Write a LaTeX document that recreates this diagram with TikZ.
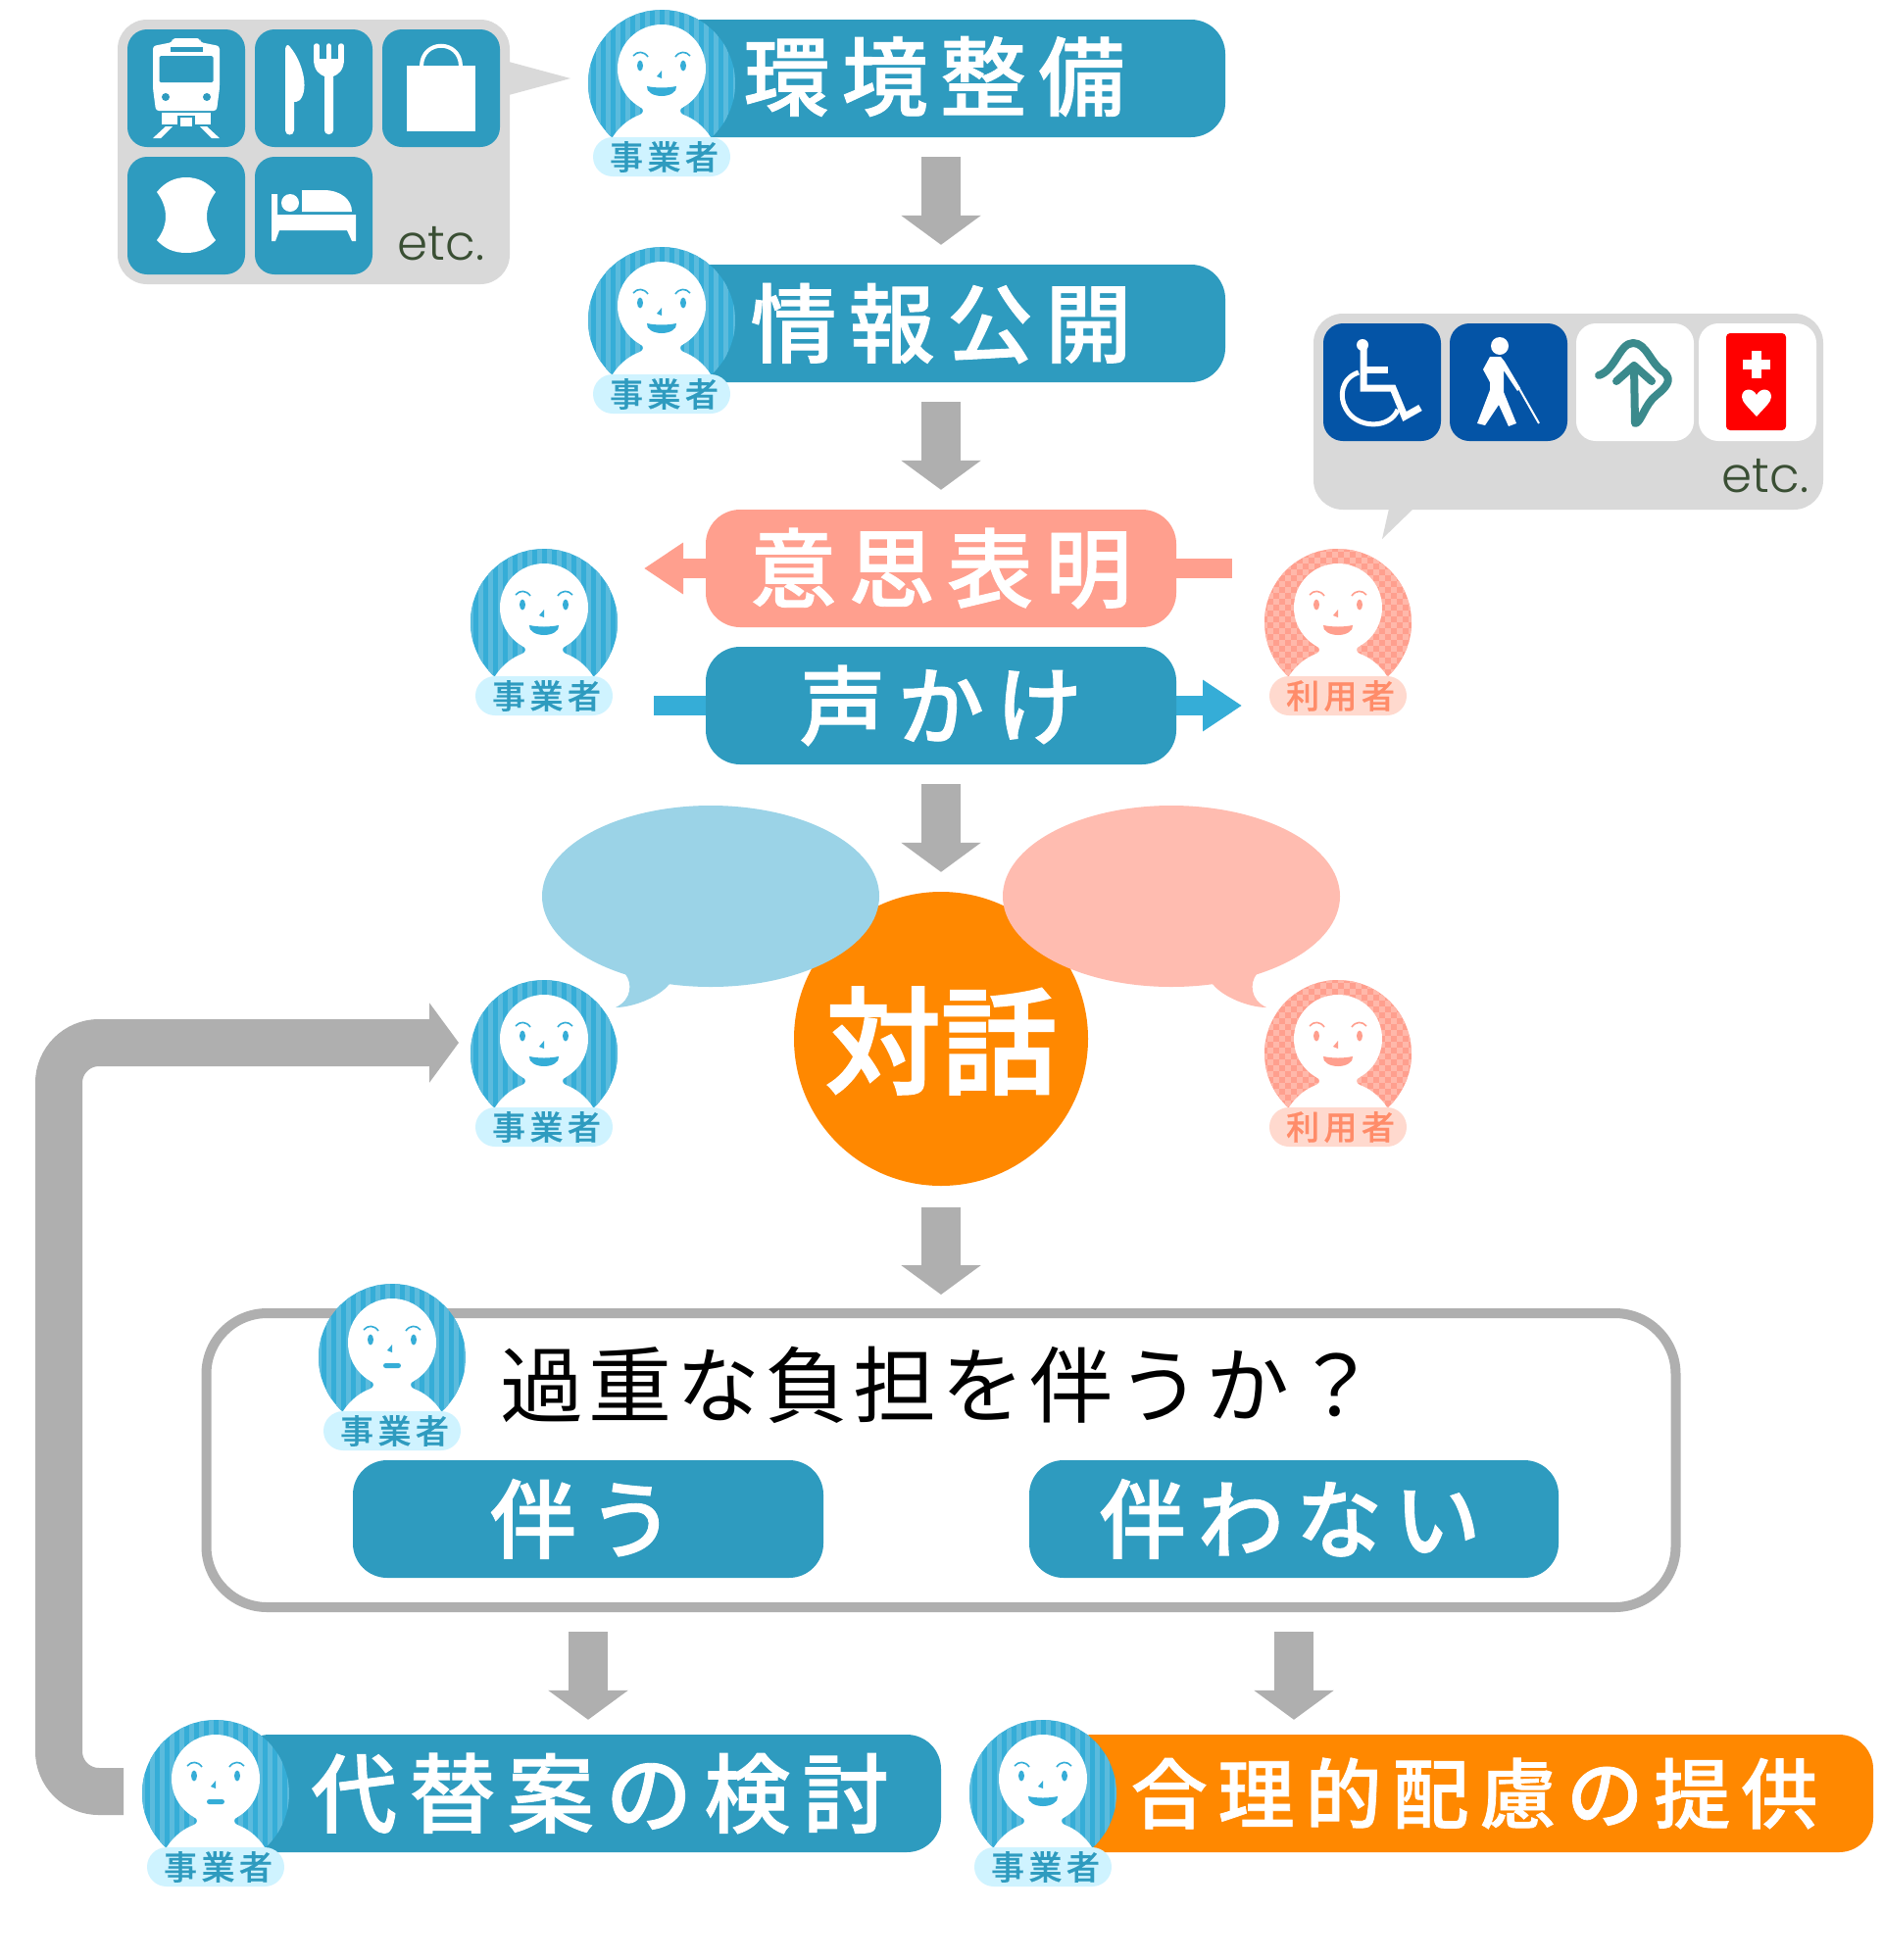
\documentclass[tikz,border=0pt]{standalone}
\usepackage{fontspec}
\usetikzlibrary{shapes.geometric,arrows.meta}
\newfontfamily\jpwide[LetterSpace=14,FakeBold=1]{Noto Sans CJK JP Medium}
\newfontfamily\jplabel[LetterSpace=13,FakeBold=0.6]{Noto Sans CJK JP Medium}
\newfontfamily\jpask[LetterSpace=6]{Noto Sans CJK JP}
\newfontfamily\jpbig[FakeBold=2]{Noto Sans CJK JP Medium}
\newfontfamily\etcfont[UprightFont=* Light]{Poppins}
\definecolor{barteal}{HTML}{2E9BBF}
\definecolor{stripedark}{HTML}{35ADD7}
\definecolor{stripelight}{HTML}{5BBBDD}
\definecolor{bizpale}{HTML}{CFF3FF}
\definecolor{salmon}{HTML}{FF9F8E}
\definecolor{salmonlight}{HTML}{FFB8AA}
\definecolor{userpale}{HTML}{FFD9CE}
\definecolor{usertext}{HTML}{FF8C69}
\definecolor{orangebar}{HTML}{FF8800}
\definecolor{arrowgray}{HTML}{AFAFAF}
\definecolor{bubblegray}{HTML}{D9D9D9}
\definecolor{saybiz}{HTML}{9BD3E7}
\definecolor{sayuser}{HTML}{FFBCB0}
\definecolor{signblue}{HTML}{0454A6}
\definecolor{signgreen}{HTML}{3B8A8C}
\definecolor{etcgreen}{HTML}{3A4F34}
% parts of a face, origin at the middle of the round background
\newcommand{\facelines}[1]{%
  \fill[white] (0,-15) circle (45);
  \fill[white] (-22,24) .. controls (-18,26) and (-18,30) .. (-22,32) .. controls (-33,36) and (-43,44) .. (-50,55) -- (50,55) .. controls (43,44) and (33,36) .. (22,32) .. controls (18,30) and (18,26) .. (22,24) -- cycle;
  \fill[#1] (-22,-18) ellipse [x radius=3, y radius=5.5];
  \fill[#1] (22,-18) ellipse [x radius=3, y radius=5.5];
  \draw[#1, line width=1.6pt] (-29,-28) .. controls (-25,-33) and (-18,-33) .. (-14,-27);
  \draw[#1, line width=1.6pt] (29,-28) .. controls (25,-33) and (18,-33) .. (14,-27);
  \fill[#1] (0,-13) -- (0,-5) -- (-5,-7) -- cycle;
}
\newcommand{\mouthsmile}[1]{\fill[#1] (-15,3) .. controls (-5,5) and (5,5) .. (15,3) .. controls (16,9) and (8,13) .. (0,13) .. controls (-8,13) and (-16,9) .. (-15,3) -- cycle;}
\newcommand{\mouthflat}[1]{\fill[#1, rounded corners=2.5pt] (-9,6) rectangle (9,11);}
\tikzset{
  bizlabel/.style={fill=bizpale, text=barteal, rounded corners=20pt, minimum width=140pt, minimum height=40pt, inner sep=0pt, font=\fontsize{34}{34}\jplabel},
  userlabel/.style={bizlabel, fill=userpale, text=usertext},
  pics/bizface/.style={code={
    \begin{scope}
      \clip (0,0) circle (75);
      \clip (-80,-80) rectangle (80,55);
      \fill[stripedark] (-75,-75) rectangle (75,75);
      \foreach \k in {-8,...,7} \fill[stripelight] (\k*10+2.5,-75) rectangle ++(5,150);
    \end{scope}
    \facelines{stripedark}
    #1{stripedark}
    \coordinate (-west) at (-75,-2);
    \node[bizlabel] (-label) at (0,75) {\hspace*{5pt}事業者};
  }},
  pics/userface/.style={code={
    \begin{scope}
      \clip (0,0) circle (75);
      \clip (-80,-80) rectangle (80,55);
      \fill[salmon] (-75,-75) rectangle (75,75);
      \foreach \i in {-13,...,12} \foreach \j in {-13,...,12} {
        \ifodd\numexpr\i+\j\relax \fill[salmonlight] (\i*6,\j*6) rectangle ++(6,6); \fi
      }
    \end{scope}
    \facelines{salmon}
    #1{salmon}
    \node[userlabel] (-label) at (0,75) {\hspace*{5pt}利用者};
  }},
  barbox/.style={fill=barteal, text=white, rounded corners=35pt, minimum height=120pt, inner sep=0pt, font=\fontsize{88}{88}\jpwide},
  bartext/.style={text=white, inner sep=0pt, font=\fontsize{88}{88}\jpwide},
  flowarrow/.style={draw=arrowgray, line width=40pt, -{Triangle[width=80pt,length=30pt]}, shorten <=20pt, shorten >=20pt},
  looparrow/.style={draw=arrowgray, line width=48pt, rounded corners=41pt, -{Triangle[width=80pt,length=30pt]}, shorten <=19pt},
  iconbox/.style={fill=barteal, rounded corners=20pt, minimum width=120pt, minimum height=120pt, inner sep=0pt},
  bubblebox/.style={fill=bubblegray, rounded corners=30pt, inner sep=0pt},
  etctext/.style={text=etcgreen, inner sep=0pt, anchor=base, font=\fontsize{50}{50}\etcfont},
}
\begin{document}
\begin{tikzpicture}[x=1pt, y=-1pt]
  \fill[white] (0,0) rectangle (1920,2000);
  \useasboundingbox (0,0) rectangle (1920,2000);

  % shop signs
  \node[bubblebox, minimum width=400pt, minimum height=270pt] (shopbubble) at (320,155) {};
  \fill[bubblegray] (519,63) -- (582,80) -- (519,97) -- cycle;
  \node[iconbox] (train) at (190,90) {};
  \node[iconbox] (meal) at (320,90) {};
  \node[iconbox] (bag) at (450,90) {};
  \node[iconbox] (towel) at (190,220) {};
  \node[iconbox] (bed) at (320,220) {};
  \node[etctext] (shopetc) at (450,265) {etc.};
  % train
  \fill[white, rounded corners=3pt] (176,43) -- (176,39) -- (204,39) -- (204,43) -- (224,47) -- (224,90) -- (221,113) -- (159,113) -- (156,90) -- (156,47) -- cycle;
  \fill[barteal] (174,48) rectangle (207,53);
  \fill[barteal, rounded corners=1.5pt] (162.5,57) rectangle (217.5,84);
  \fill[barteal] (169,99) circle (4);
  \fill[barteal] (211,99) circle (4);
  \fill[white] (165,115) rectangle (215,127);
  \fill[barteal] (181,118) rectangle (199,129);
  \fill[white] (184,120) rectangle (196,129);
  \fill[white] (169,129) -- (176,129) -- (164,141) -- (156,141) -- cycle;
  \fill[white] (211,129) -- (204,129) -- (216,141) -- (224,141) -- cycle;
  % knife and fork
  \fill[white] (291,50) .. controls (292,45) and (294,45) .. (296,48) .. controls (308,62) and (316,90) .. (306,102) .. controls (304,104) and (301,104) .. (300,104) -- (300,133) .. controls (300,139) and (291,139) .. (291,133) -- cycle;
  \fill[white, rounded corners=4pt] (331,75) rectangle (340,137);
  \fill[white] (320,60) -- (351,60) .. controls (351,72) and (345,76) .. (340,78) -- (331,78) .. controls (326,76) and (320,72) .. (320,60) -- cycle;
  \foreach \tine in {323,335.5,348} \draw[white, line width=5.5pt, line cap=round] (\tine,47) -- (\tine,62);
  % bag
  \fill[white] (415,67) rectangle (485,134);
  \draw[white, line width=4pt] (430,67) .. controls (431,40) and (469,40) .. (470,67);
  % towel
  \fill[white] (160,196) .. controls (168,186) and (178,181) .. (190,181) .. controls (202,181) and (212,186) .. (220,196) .. controls (208,212) and (208,230) .. (220,245) .. controls (212,254) and (202,258) .. (190,258) .. controls (178,258) and (168,254) .. (160,245) .. controls (172,230) and (172,212) .. (160,196) -- cycle;
  % bed
  \fill[white] (277,198) -- (283,198) -- (283,219) -- (363,219) -- (363,246) -- (359,246) -- (354,235) -- (285,235) -- (281,246) -- (277,246) -- cycle;
  \fill[white] (296,207) circle (9);
  \fill[white] (308,194) -- (330,194) .. controls (348,194) and (359,204) .. (359,216) -- (308,216) -- cycle;

  % access signs
  \node[bubblebox, minimum width=520pt, minimum height=200pt] (signbubble) at (1600,420) {};
  \fill[bubblegray] (1417,519) -- (1442,519) -- (1410,550) -- cycle;
  \node[iconbox, fill=signblue] (wheelchair) at (1410,390) {};
  \node[iconbox, fill=signblue] (whitecane) at (1539,390) {};
  \node[iconbox, fill=white] (ostomate) at (1668,390) {};
  \node[iconbox, fill=white] (helpmark) at (1793,390) {};
  \node[etctext] (signetc) at (1801,502) {etc.};
  % wheelchair
  \fill[white] (1390,352) circle (6);
  \draw[white, line width=7pt] (1391,352) -- (1391,396) -- (1421,396) -- (1433,425) -- (1449,416);
  \draw[white, line width=7pt] (1391,377) -- (1416,377);
  \draw[white, line width=5pt] (1386,380) .. controls (1368,386) and (1366,405) .. (1373,417) .. controls (1384,438) and (1418,438) .. (1426,418);
  % person with a white cane
  \fill[white] (1530,353) circle (9);
  \fill[white] (1520,364) -- (1531,364) -- (1535,369) -- (1551,396) -- (1548,399) -- (1534,378) -- (1534,400) -- (1547,432) -- (1539,435) -- (1529,413) -- (1515,434) -- (1507,432) -- (1520,398) -- (1520,390) -- (1513,377) -- cycle;
  \draw[white, line width=2pt] (1549,395) -- (1570,432);
  % arrow sign
  \draw[signgreen, line width=8pt, line cap=round, line join=round] (1631,383) .. controls (1648,378) and (1652,350) .. (1666,350) .. controls (1680,350) and (1684,372) .. (1698,380) .. controls (1706,388) and (1700,395) .. (1690,403) .. controls (1678,412) and (1674,432) .. (1668,432) -- (1667,373);
  \draw[signgreen, line width=8pt, line cap=round, line join=round] (1649,389) -- (1667,373) -- (1685,389);
  % cross and heart
  \begin{scope}[xshift=-2pt]
    \fill[red, rounded corners=4pt] (1763,340) rectangle (1824,439);
    \fill[white] (1789,358) rectangle (1799,386);
    \fill[white] (1780,367) rectangle (1808,377);
    \fill[white] (1794,425) .. controls (1785,415) and (1779,410) .. (1779,405) .. controls (1779,396) and (1790,395) .. (1794,403) .. controls (1798,395) and (1809,396) .. (1809,405) .. controls (1809,410) and (1803,415) .. (1794,425) -- cycle;
  \end{scope}

  % flow boxes
  \node[barbox, minimum width=580pt] (envbar) at (960,80) {};
  \node[bartext] (envtext) at (953,78) {環境整備};
  \node[barbox, minimum width=580pt] (infobar) at (960,330) {情報公開};
  \draw[flowarrow] (envbar.south) -- (infobar.north);
  \coordinate (saystart) at (1257,580);
  \coordinate (saytip) at (657,580);
  \coordinate (callstart) at (667,720);
  \coordinate (calltip) at (1267,720);
  \draw[draw=salmon, line width=20pt, -{Triangle[width=50pt,length=40pt]}] (saystart) -- (saytip);
  \draw[draw=stripedark, line width=20pt, -{Triangle[width=50pt,length=40pt]}] (callstart) -- (calltip);
  \node[barbox, fill=salmon, minimum width=480pt] (intent) at (960,580) {意思表明};
  \node[barbox, minimum width=480pt] (call) at (960,720) {声かけ};
  \draw[flowarrow] (infobar.south) -- (intent.north);

  % dialogue
  \node[circle, fill=orangebar, minimum size=300pt, inner sep=0pt] (dialog) at (960,1060) {};
  \draw[flowarrow] (call.south) -- (dialog.north);
  \node[ellipse, fill=saybiz, minimum width=344pt, minimum height=185pt, inner sep=0pt] (bizsay) at (725,914.5) {};
  \fill[saybiz] (638,994) .. controls (645,1003) and (645,1020) .. (628,1028) .. controls (645,1028) and (672,1018) .. (683,1004) -- cycle;
  \node[ellipse, fill=sayuser, minimum width=344pt, minimum height=185pt, inner sep=0pt] (usersay) at (1195,914.5) {};
  \fill[sayuser] (1282,994) .. controls (1275,1003) and (1275,1020) .. (1292,1028) .. controls (1275,1028) and (1248,1018) .. (1237,1004) -- cycle;
  \node[text=white, inner sep=0pt, font=\fontsize{118}{118}\jpbig] (dialogtext) at (960,1062) {対話};

  % question box
  \node[draw=arrowgray, line width=10pt, fill=white, rounded corners=62pt, minimum width=1499pt, minimum height=300pt, inner sep=0pt] (check) at (960,1490) {};
  \draw[flowarrow, shorten <=22pt, shorten >=14pt] (dialog.south) -- (check.north -| dialog.south);
  \node[inner sep=0pt, font=\fontsize{85}{85}\jpask] (asktext) at (958,1413) {過重な負担を伴うか？};
  \node[barbox, minimum width=480pt] (yesbox) at (600,1550) {};
  \node[bartext] (yestext) at (594,1550) {伴う};
  \node[barbox, minimum width=540pt] (nobox) at (1320,1550) {};
  \node[bartext] (notext) at (1316,1550) {伴わない};

  % results
  \node[barbox, minimum width=720pt] (altbar) at (600,1830) {};
  \node[bartext] (alttext) at (612,1830) {代替案の検討};
  \node[barbox, fill=orangebar, minimum width=831pt] (givebar) at (1495.5,1830) {};
  \node[bartext, font=\fontsize{78}{78}\jpwide] (givetext) at (1504,1830) {合理的配慮の提供};
  \draw[flowarrow, shorten >=15pt] (yesbox.south |- check.south) -- (altbar.north);
  \draw[flowarrow, shorten >=15pt] (nobox.south |- check.south) -- (nobox.south |- givebar.north);

  % people
  \pic (envbiz) at (675,85) {bizface={\mouthsmile}};
  \pic (infobiz) at (675,327) {bizface={\mouthsmile}};
  \pic (askbiz) at (555,635) {bizface={\mouthsmile}};
  \pic (askuser) at (1365,635) {userface={\mouthsmile}};
  \pic (talkbiz) at (555,1075) {bizface={\mouthsmile}};
  \pic (talkuser) at (1365,1075) {userface={\mouthsmile}};
  \pic (checkbiz) at (400,1385) {bizface={\mouthflat}};
  \pic (altbiz) at (220,1830) {bizface={\mouthflat}};
  \pic (givebiz) at (1064,1830) {bizface={\mouthsmile}};

  % back to the dialogue
  \coordinate (loopend) at (468,1064);
  \draw[looparrow] (altbiz-west) -- (60,1828) -- (60,1064) -- (loopend);
\end{tikzpicture}
\end{document}
